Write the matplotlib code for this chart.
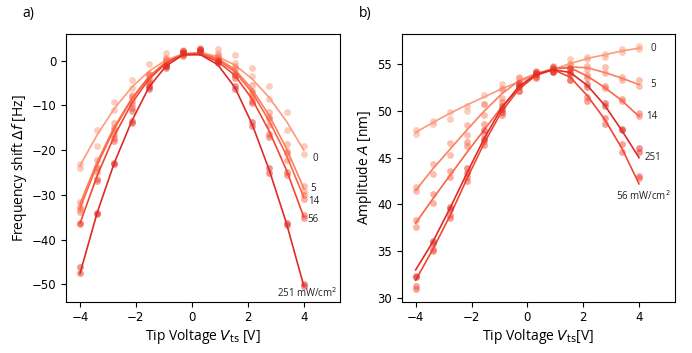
import matplotlib
matplotlib.use("Agg")
import matplotlib.pyplot as plt
import numpy as np

# ---- data ----
V = [-4.0, -3.385, -2.769, -2.154, -1.538, -0.923, -0.308, 0.308, 0.923, 1.538, 2.154, 2.769, 3.385, 4.0]
powers = ["0", "5", "14", "56", "251"]

# panel a: fitted lines
fa_line_0 = [-23.5, -16.6, -10.7, -6.0, -2.4, 0.1, 1.5, 1.8, 0.9, -1.0, -4.1, -8.3, -13.6, -20.0]
fa_line_5 = [-32.0, -22.6, -14.8, -8.5, -3.6, -0.3, 1.5, 1.7, 0.5, -2.0, -6.4, -12.3, -19.7, -28.5]
fa_line_14 = [-33.0, -23.3, -15.2, -8.7, -3.7, -0.4, 1.4, 1.6, 0.2, -2.5, -7.1, -13.5, -21.2, -30.5]
fa_line_56 = [-36.4, -25.7, -16.8, -9.6, -4.2, -0.6, 1.3, 1.4, -0.2, -3.3, -8.6, -15.8, -24.5, -34.9]
fa_line_251 = [-47.6, -34.0, -22.8, -13.6, -6.0, -1.2, 1.3, 1.3, -0.9, -6.0, -14.2, -24.5, -36.4, -50.3]
# panel a: measured points (two sweeps)
fa_pts_0 = ([-23.2, -15.6, -9.2, -4.4, -0.7, 1.6, 2.4, 2.7, 2.5, 1.3, -1.6, -5.7, -11.6, -19.0],
            [-24.0, -19.1, -11.0, -6.2, -3.0, 0.4, 1.8, 2.2, 1.6, -0.6, -3.4, -8.6, -15.6, -20.8])
fa_pts_5 = ([-31.6, -22.2, -14.0, -7.7, -3.0, 0.6, 2.2, 2.5, 1.3, -1.2, -5.5, -11.6, -18.6, -28.0],
            [-33.2, -23.8, -15.5, -9.0, -4.2, -0.5, 1.4, 1.9, 0.3, -2.9, -7.5, -13.0, -20.3, -29.1])
fa_pts_14 = ([-32.8, -24.0, -15.0, -8.2, -3.2, 0.1, 1.8, 2.3, 0.9, -2.0, -6.8, -12.6, -20.6, -30.0],
             [-33.8, -25.0, -16.4, -9.8, -4.6, -0.9, 1.2, 1.8, 0.0, -3.3, -8.2, -14.4, -22.3, -31.0])
fa_pts_56 = ([-36.2, -26.5, -17.4, -10.6, -5.0, -1.0, 1.7, 2.4, 0.2, -3.2, -9.0, -16.4, -25.0, -34.6],
             [-36.6, -27.0, -17.9, -11.2, -5.6, -1.3, 1.1, 1.9, -0.4, -3.8, -9.6, -17.0, -25.6, -35.2])
fa_pts_251 = ([-46.2, -34.0, -22.9, -13.6, -5.9, -1.2, 2.1, 2.6, -0.1, -5.7, -13.8, -24.1, -36.3, -50.0],
              [-47.5, -34.4, -23.2, -14.0, -6.3, -1.6, 1.6, 2.2, -0.6, -6.4, -14.6, -25.2, -36.8, -50.4])

# panel b: fitted lines
amp_line_0 = [47.7, 48.75, 49.75, 50.65, 51.5, 52.35, 53.1, 53.8, 54.45, 55.05, 55.6, 56.0, 56.4, 56.7]
amp_line_5 = [41.5, 43.8, 45.9, 48.0, 50.0, 51.8, 53.2, 54.0, 54.5, 54.7, 54.6, 54.1, 53.5, 52.8]
amp_line_14 = [38.0, 40.6, 43.1, 45.6, 48.0, 50.4, 52.4, 53.8, 54.5, 54.6, 53.7, 52.5, 51.1, 49.4]
amp_line_56 = [31.9, 35.2, 38.8, 42.8, 46.6, 49.9, 52.3, 53.8, 54.4, 53.6, 51.6, 49.1, 46.0, 42.2]
amp_line_251 = [33.0, 36.0, 39.6, 43.4, 47.1, 50.3, 52.6, 53.9, 54.4, 54.1, 52.7, 50.6, 47.9, 45.0]
# panel b: measured points
amp_pts_0 = ([48.0, 48.9, 49.9, 50.5, 51.7, 52.9, 53.6, 54.2, 54.6, 55.5, 55.75, 56.1, 56.6, 56.9],
             [47.55, 48.55, 49.1, 50.0, 50.7, 52.3, 53.2, 53.9, 54.3, 55.0, 55.5, 55.8, 56.3, 56.6])
amp_pts_5 = ([41.9, 44.3, 46.55, 48.5, 50.7, 52.3, 53.5, 54.3, 54.8, 55.0, 54.8, 54.7, 53.6, 53.25],
             [41.4, 43.3, 45.3, 47.45, 49.6, 51.4, 52.9, 53.7, 54.2, 54.5, 54.5, 54.0, 53.3, 52.7])
amp_pts_14 = ([38.3, 41.1, 43.6, 46.7, 48.6, 50.9, 52.8, 54.0, 54.5, 54.0, 53.8, 52.7, 51.3, 49.8],
              [37.6, 40.1, 42.9, 46.2, 47.5, 49.9, 52.1, 53.6, 54.1, 53.3, 53.5, 52.4, 51.1, 49.5])
amp_pts_56 = ([31.3, 35.0, 38.5, 42.5, 46.8, 49.9, 52.5, 53.9, 54.5, 53.8, 51.5, 49.2, 46.5, 43.0],
              [31.0, 35.2, 38.9, 42.9, 46.3, 49.6, 52.1, 53.5, 54.1, 53.3, 51.1, 48.6, 45.6, 42.8])
amp_pts_251 = ([32.4, 36.1, 39.7, 43.9, 47.9, 50.5, 53.0, 54.2, 54.7, 54.6, 52.9, 50.8, 48.1, 46.0],
               [32.2, 35.9, 39.5, 43.35, 47.0, 50.2, 52.7, 53.9, 54.3, 54.2, 52.5, 50.5, 47.9, 45.6])

fa_lines = [fa_line_0, fa_line_5, fa_line_14, fa_line_56, fa_line_251]
fa_pts = [fa_pts_0, fa_pts_5, fa_pts_14, fa_pts_56, fa_pts_251]
amp_lines = [amp_line_0, amp_line_5, amp_line_14, amp_line_56, amp_line_251]
amp_pts = [amp_pts_0, amp_pts_5, amp_pts_14, amp_pts_56, amp_pts_251]

# label placements (x, y) in data coords
fa_labels = [("0", 4.33, -21.8), ("5", 4.24, -28.5), ("14", 4.15, -31.6),
             ("56", 4.12, -35.6), ("251 mW/cm$^2$", 3.05, -51.9)]
amp_labels = [("0", 4.41, 56.7), ("5", 4.42, 52.8), ("14", 4.24, 49.4),
              ("56 mW/cm$^2$", 3.17, 40.9), ("251", 4.21, 45.06)]

colors = plt.cm.Reds(np.linspace(0.35, 0.68, 5))

plt.rcParams['font.family'] = 'DejaVu Sans'
lab_font = 'Open Sans'

fig = plt.figure(figsize=(6.92, 3.53), dpi=100)
axa = fig.add_axes([0.0954, 0.1453, 0.396, 0.758])
axb = fig.add_axes([0.5805, 0.1453, 0.3954, 0.758])

for ax, lines, pts in [(axa, fa_lines, fa_pts), (axb, amp_lines, amp_pts)]:
    for i in range(5):
        for rep in pts[i]:
            ax.scatter(V, rep, s=24, color=colors[i], alpha=0.5, linewidths=0, zorder=2 + i)
        ax.plot(V, lines[i], color=colors[i], lw=1.2, zorder=3 + i)
    ax.set_xlim(-4.5, 5.3)
    ax.set_xticks([-4, -2, 0, 2, 4])
    ax.tick_params(labelsize=8.5)

axa.set_ylim(-53.9, 5.9)
axa.set_yticks([0, -10, -20, -30, -40, -50])
axb.set_ylim(29.6, 58.2)
axb.set_yticks([30, 35, 40, 45, 50, 55])

for t, x, y in fa_labels:
    axa.text(x, y, t, fontsize=7, family=lab_font, ha='left', va='center', color='#222222')
for t, x, y in amp_labels:
    axb.text(x, y, t, fontsize=7, family=lab_font, ha='left', va='center', color='#222222')

axa.set_xlabel(r"Tip Voltage $V_{\mathrm{ts}}$ [V]", fontsize=10, family=lab_font, labelpad=2)
axa.set_ylabel(r"Frequency shift $\Delta f$ [Hz]", fontsize=10, family=lab_font, labelpad=2)
axb.set_xlabel(r"Tip Voltage $V_{\mathrm{ts}}$[V]", fontsize=10, family=lab_font, labelpad=2)
axb.set_ylabel(r"Amplitude $A$ [nm]", fontsize=10, family=lab_font, labelpad=2)

fig.text(22 / 692, 1 - 13 / 353, "a)", fontsize=10, family=lab_font, va='center', ha='left')
fig.text(359 / 692, 1 - 13 / 353, "b)", fontsize=10, family=lab_font, va='center', ha='left')

fig.savefig("out.png", dpi=100)
